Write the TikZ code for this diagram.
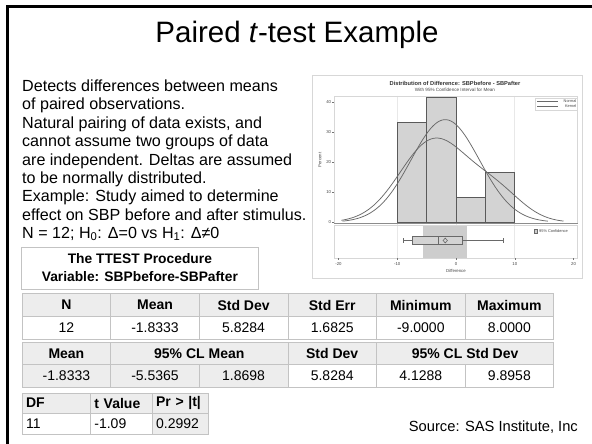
\documentclass[tikz,border=0pt]{standalone}
\usepackage{fontspec}
\setmainfont{Liberation Sans}
\newcommand\fs[2]{\fontsize{#1}{#2}\selectfont}
% table cell: name, x, y, width, height, fill, font, text
\newcommand\tcell[8]{\node[cellbox,fill=#6,minimum width=#4pt,minimum height=#5pt,font=#7] (#1) at (#2,#3) {#8};}
% left-aligned table cell: name, x, y, width, height, fill, text width, text
\newcommand\lcell[8]{\node[cellbox,fill=#6,minimum width=#4pt,minimum height=#5pt,text width=#7pt,align=left,inner xsep=4pt,font=\fs{14}{16}] (#1) at (#2,#3) {#8};}
\definecolor{hdr}{RGB}{237,237,237}
\definecolor{rulec}{RGB}{195,195,195}
\definecolor{barc}{RGB}{211,211,211}
\definecolor{barline}{RGB}{90,90,90}
\definecolor{curvec}{RGB}{105,105,105}
\definecolor{bandc}{RGB}{205,205,205}
\definecolor{gridc}{RGB}{232,232,232}
\definecolor{frameg}{RGB}{215,215,215}
\definecolor{inkg}{RGB}{70,70,70}
\begin{document}
\begin{tikzpicture}[x=1pt,y=-1pt,
  bodytxt/.style={anchor=base west,inner sep=0pt,font=\fs{16.1}{18}},
  cellbox/.style={anchor=north west,draw=rulec,line width=0.8pt,inner sep=0pt},
  tiny/.style={inner sep=0pt,font=\fs{4.3}{5},text=inkg},
  barst/.style={fill=barc,draw=barline,line width=0.6pt},
  curvest/.style={draw=curvec,line width=0.75pt,smooth,samples=90}]
\useasboundingbox (0,0) rectangle (592,444);
\fill[white] (0,0) rectangle (592,444);

% slide frame
\draw[line width=3pt] (7.5,444) -- (7.5,6.5) -- (592,6.5);

% title
\node[anchor=base,inner sep=0pt,font=\fs{29.5}{33}] (title) at (297,42.7) {Paired \textit{t}-test Example};

% body text
\node[bodytxt] (p1) at (22,91.7) {Detects differences between means};
\node[bodytxt] (p2) at (22,110) {of paired observations.};
\node[bodytxt] (p3) at (22,128.3) {Natural pairing of data exists, and};
\node[bodytxt] (p4) at (22,146.7) {cannot assume two groups of data};
\node[bodytxt] (p5) at (22,165) {are independent. Deltas are assumed};
\node[bodytxt] (p6) at (22,183.3) {to be normally distributed.};
\node[bodytxt] (p7) at (22,201.7) {Example: Study aimed to determine};
\node[bodytxt] (p8) at (22,220) {effect on SBP before and after stimulus.};
\node[bodytxt] (p9) at (22,238.3) {N = 12; H\textsubscript{0}: Δ=0 vs H\textsubscript{1}: Δ≠0};

% procedure heading box
\draw[rulec,line width=0.8pt] (21.7,247.7) rectangle (258,289.3);
\node[anchor=base,inner sep=0pt,font=\bfseries\fs{13.8}{16}] (h1) at (139.85,263.3) {The TTEST Procedure};
\node[anchor=base,inner sep=0pt,font=\bfseries\fs{13.8}{16}] (h2) at (139.85,281.7) {Variable: SBPbefore-SBPafter};

% statistics table
\tcell{a1}{21.7}{293.3}{88.6}{22.7}{hdr}{\bfseries\fs{14}{16}}{N}
\tcell{a2}{110.3}{293.3}{88.6}{22.7}{hdr}{\bfseries\fs{14}{16}}{Mean}
\tcell{a3}{198.9}{293.3}{88.6}{22.7}{hdr}{\bfseries\fs{14}{16}}{Std Dev}
\tcell{a4}{287.5}{293.3}{88.6}{22.7}{hdr}{\bfseries\fs{14}{16}}{Std Err}
\tcell{a5}{376.1}{293.3}{88.6}{22.7}{hdr}{\bfseries\fs{14}{16}}{Minimum}
\tcell{a6}{464.7}{293.3}{88.6}{22.7}{hdr}{\bfseries\fs{14}{16}}{Maximum}
\tcell{b1}{21.7}{316}{88.6}{22.5}{white}{\fs{14}{16}}{12}
\tcell{b2}{110.3}{316}{88.6}{22.5}{white}{\fs{14}{16}}{-1.8333}
\tcell{b3}{198.9}{316}{88.6}{22.5}{white}{\fs{14}{16}}{5.8284}
\tcell{b4}{287.5}{316}{88.6}{22.5}{white}{\fs{14}{16}}{1.6825}
\tcell{b5}{376.1}{316}{88.6}{22.5}{white}{\fs{14}{16}}{-9.0000}
\tcell{b6}{464.7}{316}{88.6}{22.5}{white}{\fs{14}{16}}{8.0000}

% confidence limits table
\tcell{c1}{21.7}{341.7}{88.6}{22.6}{hdr}{\bfseries\fs{14}{16}}{Mean}
\tcell{c2}{110.3}{341.7}{177.2}{22.6}{hdr}{\bfseries\fs{14}{16}}{95\% CL Mean}
\tcell{c3}{287.5}{341.7}{88.6}{22.6}{hdr}{\bfseries\fs{14}{16}}{Std Dev}
\tcell{c4}{376.1}{341.7}{177.2}{22.6}{hdr}{\bfseries\fs{14}{16}}{95\% CL Std Dev}
\tcell{d1}{21.7}{364.3}{88.6}{22.2}{hdr}{\fs{14}{16}}{-1.8333}
\tcell{d2}{110.3}{364.3}{88.6}{22.2}{hdr}{\fs{14}{16}}{-5.5365}
\tcell{d3}{198.9}{364.3}{88.6}{22.2}{hdr}{\fs{14}{16}}{1.8698}
\tcell{d4}{287.5}{364.3}{88.6}{22.2}{white}{\fs{14}{16}}{5.8284}
\tcell{d5}{376.1}{364.3}{88.6}{22.2}{white}{\fs{14}{16}}{4.1288}
\tcell{d6}{464.7}{364.3}{88.6}{22.2}{white}{\fs{14}{16}}{9.8958}

% t test table
\lcell{e1}{21.7}{393}{68.3}{19.5}{hdr}{60.3}{\bfseries DF}
\lcell{e2}{90}{393}{61.7}{19.5}{hdr}{53.7}{\bfseries t Value}
\lcell{e3}{151.7}{393}{56.3}{19.5}{hdr}{48.3}{\bfseries Pr > |t|}
\lcell{f1}{21.7}{412.5}{68.3}{21}{white}{60.3}{11}
\lcell{f2}{90}{412.5}{61.7}{21}{white}{53.7}{-1.09}
\lcell{f3}{151.7}{412.5}{56.3}{21}{hdr}{48.3}{0.2992}

\node[anchor=base east,inner sep=0pt,font=\fs{14.7}{16}] (src) at (578,431) {Source: SAS Institute, Inc};

% ---- distribution chart ----
\draw[frameg,line width=0.8pt,fill=white] (312.7,75) rectangle (582.7,278);
\node[inner sep=0pt,font=\bfseries\fs{5.7}{6},text=black!80] (ct) at (455,83) {Distribution of Difference: SBPbefore - SBPafter};
\node[tiny,font=\fs{4.6}{5}] (cs) at (455,89.6) {With 95\% Confidence Interval for Mean};

\begin{scope}[shift={(456,222.3)},x=5.875pt,y=3pt]
  % grid lines
  \foreach \g in {-10,0,10}
    \draw[gridc,line width=0.6pt] (\g,42.1) -- (\g,-12);
  % confidence band
  \fill[bandc] (-5.5365,-0.9) rectangle (1.8698,-12);
  % histogram
  \draw[barst] (-10,0) rectangle (-5,33.33);
  \draw[barst] (-5,0) rectangle (0,41.67);
  \draw[barst] (0,0) rectangle (5,8.33);
  \draw[barst] (5,0) rectangle (10,16.67);
  % normal and kernel density curves
  \draw[curvest] plot[domain=-19.3:15.65] (\x,{34.22*exp(-0.5*((\x+1.8333)/5.8284)^2)});
  \draw[curvest] plot[domain=-19.5:18.3] (\x,{27.5*exp(-((\x+3.7)^2)/67.28)+9*exp(-((\x-7)^2)/40.5)});
  % box plot
  \draw[curvec,line width=0.6pt] (-9,-6.07) -- (-7.5,-6.07) (1,-6.07) -- (8,-6.07);
  \draw[curvec,line width=0.6pt] (-9,-5.3) -- (-9,-6.84) (8,-5.3) -- (8,-6.84);
  \draw[fill=barc,draw=curvec,line width=0.6pt] (-7.5,-4.8) rectangle (1,-7.33);
  \draw[curvec,line width=0.6pt] (-3,-4.8) -- (-3,-7.33);
  \draw[curvec,line width=0.6pt] (-2.2,-6.07) -- (-1.83,-5.27) -- (-1.46,-6.07) -- (-1.83,-6.87) -- cycle;
\end{scope}

% panel frames
\draw[frameg,line width=0.7pt] (334.3,96) rectangle (577.7,223.3);
\draw[frameg,line width=0.7pt] (334.3,225) rectangle (577.7,258.3);
\draw[black!45,line width=0.7pt] (334.3,223.6) -- (577.7,223.6);

% axis ticks and labels
\foreach \v/\yy in {0/222.3,10/192.3,20/162.3,30/132.3,40/102.3}{
  \draw[black!55,line width=0.4pt] (332.3,\yy) -- (334.3,\yy);
  \node[tiny,anchor=east,name=yl\v] at (331.3,\yy) {\v};
}
\foreach \v/\xx in {-20/338.5,-10/397.25,0/456,10/514.75,20/573.5}{
  \draw[black!55,line width=0.4pt] (\xx,258.3) -- (\xx,260.3);
  \node[tiny,name=xl\v] at (\xx,264) {\v};
}
\node[tiny,rotate=90] (yax) at (320,160) {Percent};
\node[tiny] (xax) at (456,270.7) {Difference};

% legends
\draw[frameg,line width=0.5pt,fill=white] (535,98) rectangle (577.5,110);
\draw[curvec,line width=0.6pt] (537,101.3) -- (557.5,101.3);
\draw[curvec,line width=0.6pt] (537,105.8) -- (557.5,105.8);
\node[tiny,anchor=east,font=\fs{3.9}{4}] (ln) at (576.5,101.3) {Normal};
\node[tiny,anchor=east,font=\fs{3.9}{4}] (lk) at (576.5,105.8) {Kernel};
\draw[fill=bandc,draw=curvec,line width=0.4pt] (533.8,229.3) rectangle (537.6,233);
\node[tiny,anchor=west,font=\fs{3.9}{4}] (lc) at (539,231.2) {95\% Confidence};
\end{tikzpicture}
\end{document}
